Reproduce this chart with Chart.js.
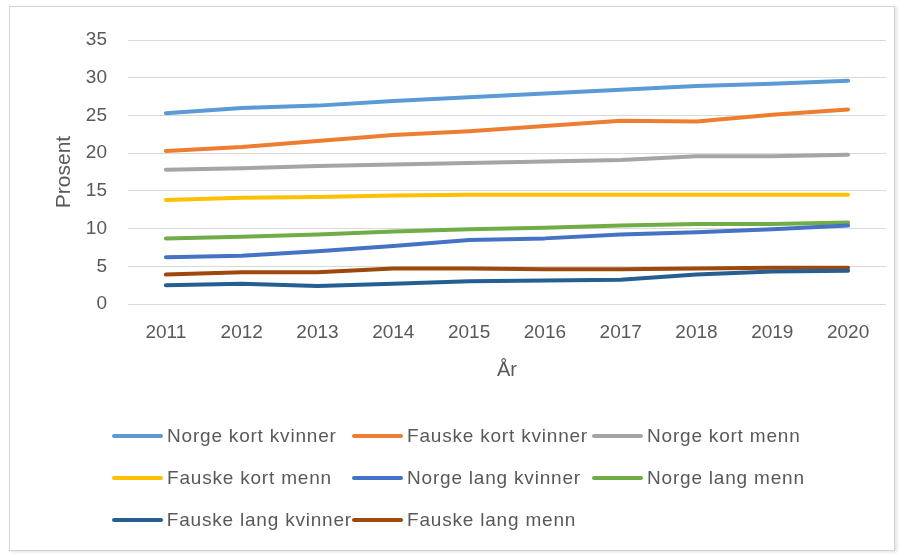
<!DOCTYPE html>
<html>
<head>
<meta charset="utf-8">
<script src="https://cdn.jsdelivr.net/npm/chart.js@4"></script>
<style>
  html, body { margin: 0; padding: 0; background: #fff; }
  #wrap { position: relative; width: 906px; height: 555px; overflow: hidden; }
  #frame { position: absolute; left: 9px; top: 6px; width: 884px; height: 543px; border: 1px solid #d4d4d4; box-shadow: 2px 1px 3px rgba(0,0,0,0.12); }
  canvas { position: absolute; left: 0; top: 0; }
  #legend { position: absolute; left: 112px; top: 424px; display: grid; grid-template-columns: 240px 240px 240px; row-gap: 18px;
            font-family: "Liberation Sans", Arial, sans-serif; font-size: 19px; letter-spacing: 0.8px; color: #595959; }
  .item { display: flex; align-items: center; height: 24px; white-space: nowrap; }
  .swatch { width: 51px; height: 4px; border-radius: 2px; margin-right: 4px; }
</style>
</head>
<body>
<div id="wrap">
  <div id="frame"></div>
  <canvas id="c" width="906" height="555"></canvas>
  <div id="legend"></div>
</div>
<script>
const years = ['2011','2012','2013','2014','2015','2016','2017','2018','2019','2020'];
const seriesNames = ['Norge kort kvinner','Fauske kort kvinner','Norge kort menn','Fauske kort menn','Norge lang kvinner','Norge lang menn','Fauske lang kvinner','Fauske lang menn'];
const norgeKortKvinner  = [25.3, 26.0, 26.3, 26.9, 27.4, 27.9, 28.4, 28.9, 29.2, 29.6];
const fauskeKortKvinner = [20.3, 20.8, 21.6, 22.4, 22.9, 23.6, 24.3, 24.2, 25.1, 25.8];
const norgeKortMenn     = [17.8, 18.0, 18.3, 18.5, 18.7, 18.9, 19.1, 19.6, 19.6, 19.8];
const fauskeKortMenn    = [13.8, 14.1, 14.2, 14.4, 14.5, 14.5, 14.5, 14.5, 14.5, 14.5];
const norgeLangKvinner  = [6.2, 6.4, 7.0, 7.7, 8.5, 8.7, 9.2, 9.5, 9.9, 10.4];
const norgeLangMenn     = [8.7, 8.9, 9.2, 9.6, 9.9, 10.1, 10.4, 10.6, 10.6, 10.8];
const fauskeLangKvinner = [2.5, 2.7, 2.4, 2.7, 3.0, 3.1, 3.2, 3.9, 4.3, 4.4];
const fauskeLangMenn    = [3.9, 4.2, 4.2, 4.7, 4.7, 4.6, 4.6, 4.7, 4.8, 4.8];
const yTicks = [0, 5, 10, 15, 20, 25, 30, 35];

const colors = ['#5B9BD5','#ED7D31','#A5A5A5','#FFC000','#4472C4','#70AD47','#255E91','#9E480E'];
const allData = [norgeKortKvinner, fauskeKortKvinner, norgeKortMenn, fauskeKortMenn, norgeLangKvinner, norgeLangMenn, fauskeLangKvinner, fauskeLangMenn];

const FONT = '"Liberation Sans", Arial, sans-serif';
const TXT = '#595959';

new Chart(document.getElementById('c'), {
  type: 'line',
  data: {
    labels: years,
    datasets: seriesNames.map((n, i) => ({
      label: n, data: allData[i], borderColor: colors[i], backgroundColor: colors[i],
      borderWidth: 4, pointRadius: 0, tension: 0, fill: false, borderCapStyle: 'round', borderJoinStyle: 'round'
    }))
  },
  options: {
    responsive: false, animation: false, devicePixelRatio: 1,
    layout: { padding: { left: 0, right: 20, top: 40, bottom: 171 } },
    plugins: { legend: { display: false }, tooltip: { enabled: false } },
    scales: {
      x: {
        offset: true,
        grid: { display: false, drawTicks: false },
        border: { display: false },
        ticks: { color: TXT, font: { family: FONT, size: 19 }, padding: 17, maxRotation: 0 },
        title: { display: true, text: 'År', color: TXT, font: { family: FONT, size: 20 }, padding: { top: 0, bottom: 2 } },
        afterFit: s => { s.height = 80; }
      },
      y: {
        min: 0, max: 35,
        afterBuildTicks: s => { s.ticks = yTicks.map(v => ({ value: v })); },
        grid: { color: '#d9d9d9', lineWidth: 1, drawTicks: false },
        border: { display: false },
        ticks: { color: TXT, font: { family: FONT, size: 19 }, padding: 21 },
        title: { display: true, text: 'Prosent', color: TXT, font: { family: FONT, size: 21 }, padding: { top: 52, bottom: 0 } },
        afterFit: s => { s.width = 128; }
      }
    }
  }
});

const lg = document.getElementById('legend');
seriesNames.forEach((n, i) => {
  const d = document.createElement('div'); d.className = 'item';
  const sw = document.createElement('span'); sw.className = 'swatch'; sw.style.background = colors[i];
  const t = document.createElement('span'); t.textContent = n;
  d.appendChild(sw); d.appendChild(t); lg.appendChild(d);
});
</script>
</body>
</html>
